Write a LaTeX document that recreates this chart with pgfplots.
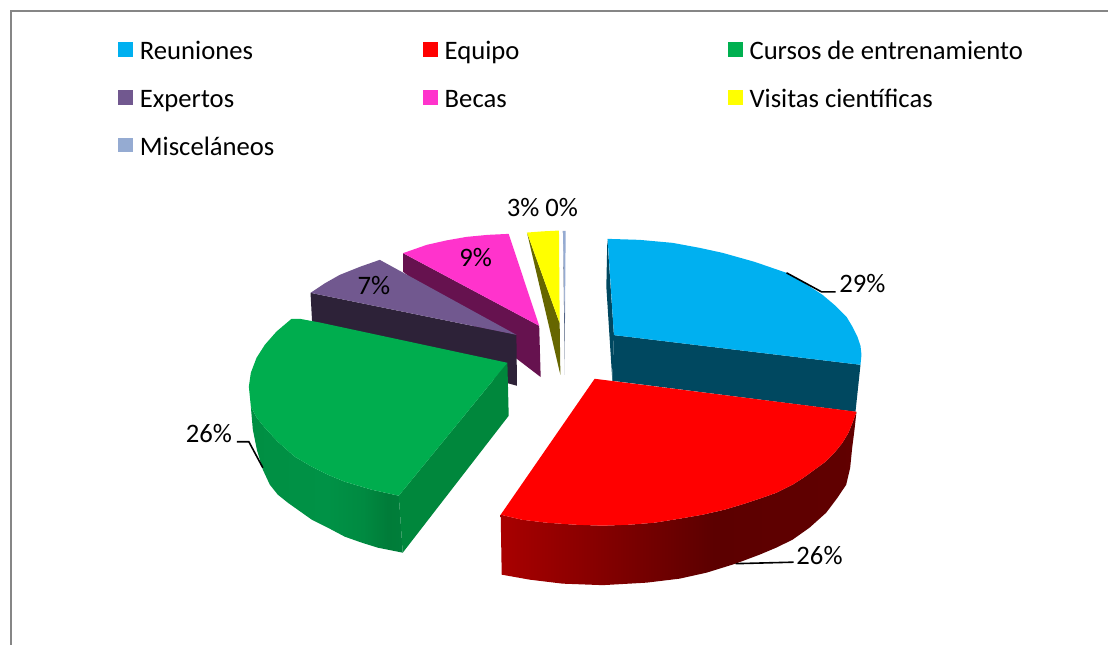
\documentclass[border=0pt]{standalone}
\usepackage{fontspec}
\setmainfont{Carlito}
\usepackage{pgfplots}
\pgfplotsset{compat=1.18}
\definecolor{cblue}{HTML}{00B0F0}
\definecolor{cbluedk}{HTML}{004860}
\definecolor{cred}{HTML}{FF0000}
\definecolor{cgreen}{HTML}{00AD4E}
\definecolor{cgreenlg}{HTML}{00B050}
\definecolor{cgreendk}{HTML}{00873C}
\definecolor{cpurple}{HTML}{71588F}
\definecolor{cpurpledk}{HTML}{2D2238}
\definecolor{cpink}{HTML}{FF33CC}
\definecolor{cpinkdk}{HTML}{66124F}
\definecolor{cyel}{HTML}{FFFF00}
\definecolor{colive}{HTML}{666600}
\definecolor{cmisc}{HTML}{95ABD2}
\definecolor{cmiscdk}{HTML}{4A5A7A}
\definecolor{cframe}{HTML}{868686}
\definecolor{gs1}{HTML}{008F43}
\definecolor{gs2}{HTML}{009246}
\definecolor{gs3}{HTML}{008A41}
\definecolor{gs4}{HTML}{007C39}
\definecolor{gs5}{HTML}{007E3A}
\pgfdeclarehorizontalshading{redside}{100bp}{color(0bp)=(red!66!black); color(25bp)=(red!66!black); color(55bp)=(red!36!black); color(75bp)=(red!38!black); color(100bp)=(red!38!black)}
\pgfdeclarehorizontalshading{greenside}{100bp}{color(0bp)=(gs1); color(25bp)=(gs1); color(50bp)=(gs2); color(62bp)=(gs3); color(70bp)=(gs4); color(75bp)=(gs5); color(100bp)=(gs5)}
\newcommand{\lent}[1]{\makebox[212.25pt][l]{\rule[-9pt]{0pt}{30pt}#1}}
\begin{document}
\begin{tikzpicture}
\begin{axis}[
  scale only axis, width=831.75pt, height=483.75pt,
  xmin=0, xmax=1109, ymin=0, ymax=645, y dir=reverse,
  hide axis, clip=false,
  every axis plot/.append style={forget plot},
  legend image code/.code={\path[#1,draw=none] (0pt,-7.6pt) rectangle (11.25pt,3.6pt);},
  legend columns=3,
  legend style={at={(axis cs:118,31.7)}, anchor=north west, draw=none, fill=none,
    inner sep=0pt, outer sep=0pt, row sep=13.4pt,
    font=\fontsize{20}{24}\selectfont,
    nodes={inner sep=0pt, outer sep=0pt, anchor=west},
    /tikz/every odd column/.style={column sep=5.25pt}},
]
\path (axis cs:0,0) rectangle (axis cs:1109,645);
% frame
\addplot[cframe, line width=1pt] coordinates {(11,645) (11,11) (1109,11)};
% Reuniones
\addplot[fill=cbluedk, draw=none] coordinates {(614.3,335.3) (861,365) (856,412) (612.7,381)} --cycle;
\addplot[fill=cbluedk, draw=none] coordinates {(607.7,239) (606.7,287) (612.7,381) (614.3,335.3)} --cycle;
\addplot[fill=cblue, draw=none] coordinates {(608,239) (640,240) (673,243) (700,248) (723,253) (755,262) (787,273) (806,284) (823,295) (836,306) (847,317) (853,327) (858,337) (861,346) (862,355) (861,365) (614.3,335.3)} --cycle;
% Equipo
\addplot[shading=redside, shade, draw=none] coordinates {(857,412) (853,423) (849,433) (843,443) (835,453) (826,462) (815,470) (804,478) (793,485) (777,493) (760,499) (745,504) (725,510) (703,515) (680,519) (655,523) (630,525) (603,526) (575,525) (547,523) (522,520) (501,515) (502,575) (530,580) (563,584) (603,585.5) (647,583) (680,579) (707,573) (736,564) (760,555) (776.7,548) (793,540) (810,528) (826.7,513) (838,498) (846.7,485) (850.7,468) (852.7,448) (855,430)} --cycle;
\addplot[fill=cred, draw=none] coordinates {(595,379) (857,412) (853,423) (849,433) (843,443) (835,453) (826,462) (815,470) (804,478) (793,485) (777,493) (760,499) (745,504) (725,510) (703,515) (680,519) (655,523) (630,525) (603,526) (575,525) (547,523) (522,520) (501,515)} --cycle;
% Miscelaneos
\addplot[fill=cmiscdk, draw=none] coordinates {(563.3,231) (565.3,323) (565.3,375)} --cycle;
\addplot[fill=cmisc, draw=none] coordinates {(563.3,231) (566,231) (565.3,323)} --cycle;
% Visitas
\addplot[fill=colive, draw=none] coordinates {(527.3,232.7) (560,323.3) (560.7,375)} --cycle;
\addplot[fill=cyel, draw=none] coordinates {(527.3,232.7) (543,231.5) (559.3,230.7) (560,323.3)} --cycle;
% Becas
\addplot[fill=cpinkdk, draw=none] coordinates {(403.3,253.3) (539.5,326) (541,377.3) (403.3,272)} --cycle;
\addplot[fill=cpink, draw=none] coordinates {(403.3,253.3) (427,245) (447,240.5) (467,237) (488,235) (509,234) (539.5,326)} --cycle;
% Expertos
\addplot[fill=cpurpledk, draw=none] coordinates {(310.7,293) (516.7,335) (517.3,386) (312.7,330)} --cycle;
\addplot[fill=cpurple, draw=none] coordinates {(310.7,293) (325,283.5) (340,275) (360,267) (380,260) (516.7,335)} --cycle;
% Cursos
\addplot[shading=greenside, shade, draw=none] coordinates {(251,407) (257,418) (265,428) (278,442) (295,457) (312,467) (328,475) (345,482) (372,490) (399,496) (403,553) (378,548) (362,543) (345,537) (328,528) (312,520) (288,503) (278,495) (270,485) (263,470) (257,450) (253,430)} --cycle;
\addplot[fill=cgreendk, draw=none] coordinates {(399,496) (507.7,363) (509,416) (403,553)} --cycle;
\addplot[fill=cgreen, draw=none] coordinates {(291.7,319) (300,319) (320,322.7) (507.7,363) (399,496) (372,490) (345,482) (328,475) (312,467) (295,457) (278,442) (265,428) (257,418) (251,407) (249,387) (251,373) (256.7,358) (265,345) (276.7,331.7)} --cycle;
% leaders
\addplot[black, line width=1.2pt] coordinates {(787,273) (822,292) (836,292)};
\addplot[black, line width=1.2pt] coordinates {(736,564) (794,562.5)};
\addplot[black, line width=1.2pt] coordinates {(237,442) (249,442) (263,468)};
% labels
\begin{scope}[every node/.style={font=\fontsize{20}{24}\selectfont, inner sep=0pt, text=black}]
\node at (axis cs:863,284) {29\%};
\node at (axis cs:820,556) {26\%};
\node at (axis cs:209,434) {26\%};
\node at (axis cs:374,286) {7\%};
\node at (axis cs:476,258) {9\%};
\node at (axis cs:523.5,208) {3\%};
\node at (axis cs:562,208) {0\%};
\end{scope}
% legend
\addlegendimage{fill=cblue}\addlegendentry{\lent{Reuniones}}
\addlegendimage{fill=cred}\addlegendentry{\lent{Equipo}}
\addlegendimage{fill=cgreenlg}\addlegendentry{\lent{Cursos de entrenamiento}}
\addlegendimage{fill=cpurple}\addlegendentry{\lent{Expertos}}
\addlegendimage{fill=cpink}\addlegendentry{\lent{Becas}}
\addlegendimage{fill=cyel}\addlegendentry{\lent{Visitas científicas}}
\addlegendimage{fill=cmisc}\addlegendentry{\lent{Misceláneos}}
\end{axis}
\end{tikzpicture}
\end{document}
